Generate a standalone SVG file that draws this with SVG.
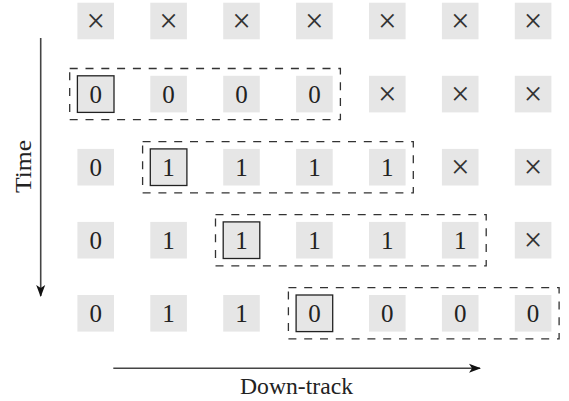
<svg xmlns="http://www.w3.org/2000/svg" width="569" height="401" viewBox="0 0 569 401">
<defs>
<style>
.cell{fill:#e6e6e6;stroke:none}
.hl{fill:#e6e6e6;stroke:#222;stroke-width:1.3}
.win{fill:none;stroke:#333;stroke-width:1.3;stroke-dasharray:8 7.8}
.t{font-family:"Liberation Serif","DejaVu Serif",serif;font-size:25px;fill:#222;text-anchor:middle}
.x{font-family:"Liberation Serif","DejaVu Serif",serif;font-size:33px;fill:#333;text-anchor:middle}
.lbl{font-family:"Liberation Serif","DejaVu Serif",serif;font-size:24px;fill:#222;text-anchor:middle}
.ax{stroke:#444;stroke-width:1.6;fill:none}
</style>
<marker id="ah" viewBox="0 0 12 10" refX="11" refY="5" markerWidth="12" markerHeight="10" markerUnits="userSpaceOnUse" orient="auto">
<path d="M0,0.5 L12,5 L0,9.5 L3,5 Z" fill="#111"/>
</marker>
</defs>
<rect width="569" height="401" fill="#fff"/>
<g id="connectors">
<line class="ax" x1="40.7" y1="38" x2="40.7" y2="296" marker-end="url(#ah)"/>
<line class="ax" x1="113.3" y1="368.3" x2="480" y2="368.3" marker-end="url(#ah)"/>
</g>
<g id="label-time"><text class="lbl" transform="translate(31,166.5) rotate(-90)" x="0" y="0" textLength="53" lengthAdjust="spacingAndGlyphs">Time</text></g>
<g id="label-downtrack"><text class="lbl" x="296.5" y="394" textLength="113" lengthAdjust="spacingAndGlyphs">Down-track</text></g>
<g id="windows">
<rect id="w2" class="win" x="69.7" y="68.5" width="270.7" height="51.2"/>
<rect id="w3" class="win" x="142.6" y="141.6" width="270.7" height="51.2"/>
<rect id="w4" class="win" x="215.5" y="214.6" width="270.7" height="51.2"/>
<rect id="w5" class="win" x="288.4" y="287.7" width="270.7" height="51.2"/>
</g>
<g id="row1">
<rect class="cell" x="77.4" y="2.7" width="36.6" height="36.6"/><text class="x" x="95.7" y="32">×</text>
<rect class="cell" x="150.3" y="2.7" width="36.6" height="36.6"/><text class="x" x="168.6" y="32">×</text>
<rect class="cell" x="223.2" y="2.7" width="36.6" height="36.6"/><text class="x" x="241.5" y="32">×</text>
<rect class="cell" x="296.1" y="2.7" width="36.6" height="36.6"/><text class="x" x="314.4" y="32">×</text>
<rect class="cell" x="369" y="2.7" width="36.6" height="36.6"/><text class="x" x="387.3" y="32">×</text>
<rect class="cell" x="441.9" y="2.7" width="36.6" height="36.6"/><text class="x" x="460.2" y="32">×</text>
<rect class="cell" x="514.8" y="2.7" width="36.6" height="36.6"/><text class="x" x="533.1" y="32">×</text>
</g>
<g id="row2">
<rect class="hl" x="77.4" y="75.8" width="36.6" height="36.6"/><text class="t" x="95.7" y="102.6">0</text>
<rect class="cell" x="150.3" y="75.8" width="36.6" height="36.6"/><text class="t" x="168.6" y="102.6">0</text>
<rect class="cell" x="223.2" y="75.8" width="36.6" height="36.6"/><text class="t" x="241.5" y="102.6">0</text>
<rect class="cell" x="296.1" y="75.8" width="36.6" height="36.6"/><text class="t" x="314.4" y="102.6">0</text>
<rect class="cell" x="369" y="75.8" width="36.6" height="36.6"/><text class="x" x="387.3" y="105.1">×</text>
<rect class="cell" x="441.9" y="75.8" width="36.6" height="36.6"/><text class="x" x="460.2" y="105.1">×</text>
<rect class="cell" x="514.8" y="75.8" width="36.6" height="36.6"/><text class="x" x="533.1" y="105.1">×</text>
</g>
<g id="row3">
<rect class="cell" x="77.4" y="148.9" width="36.6" height="36.6"/><text class="t" x="95.7" y="175.7">0</text>
<rect class="hl" x="150.3" y="148.9" width="36.6" height="36.6"/><text class="t" x="168.6" y="175.7">1</text>
<rect class="cell" x="223.2" y="148.9" width="36.6" height="36.6"/><text class="t" x="241.5" y="175.7">1</text>
<rect class="cell" x="296.1" y="148.9" width="36.6" height="36.6"/><text class="t" x="314.4" y="175.7">1</text>
<rect class="cell" x="369" y="148.9" width="36.6" height="36.6"/><text class="t" x="387.3" y="175.7">1</text>
<rect class="cell" x="441.9" y="148.9" width="36.6" height="36.6"/><text class="x" x="460.2" y="178.2">×</text>
<rect class="cell" x="514.8" y="148.9" width="36.6" height="36.6"/><text class="x" x="533.1" y="178.2">×</text>
</g>
<g id="row4">
<rect class="cell" x="77.4" y="221.9" width="36.6" height="36.6"/><text class="t" x="95.7" y="248.7">0</text>
<rect class="cell" x="150.3" y="221.9" width="36.6" height="36.6"/><text class="t" x="168.6" y="248.7">1</text>
<rect class="hl" x="223.2" y="221.9" width="36.6" height="36.6"/><text class="t" x="241.5" y="248.7">1</text>
<rect class="cell" x="296.1" y="221.9" width="36.6" height="36.6"/><text class="t" x="314.4" y="248.7">1</text>
<rect class="cell" x="369" y="221.9" width="36.6" height="36.6"/><text class="t" x="387.3" y="248.7">1</text>
<rect class="cell" x="441.9" y="221.9" width="36.6" height="36.6"/><text class="t" x="460.2" y="248.7">1</text>
<rect class="cell" x="514.8" y="221.9" width="36.6" height="36.6"/><text class="x" x="533.1" y="251.2">×</text>
</g>
<g id="row5">
<rect class="cell" x="77.4" y="295" width="36.6" height="36.6"/><text class="t" x="95.7" y="321.8">0</text>
<rect class="cell" x="150.3" y="295" width="36.6" height="36.6"/><text class="t" x="168.6" y="321.8">1</text>
<rect class="cell" x="223.2" y="295" width="36.6" height="36.6"/><text class="t" x="241.5" y="321.8">1</text>
<rect class="hl" x="296.1" y="295" width="36.6" height="36.6"/><text class="t" x="314.4" y="321.8">0</text>
<rect class="cell" x="369" y="295" width="36.6" height="36.6"/><text class="t" x="387.3" y="321.8">0</text>
<rect class="cell" x="441.9" y="295" width="36.6" height="36.6"/><text class="t" x="460.2" y="321.8">0</text>
<rect class="cell" x="514.8" y="295" width="36.6" height="36.6"/><text class="t" x="533.1" y="321.8">0</text>
</g>
</svg>
